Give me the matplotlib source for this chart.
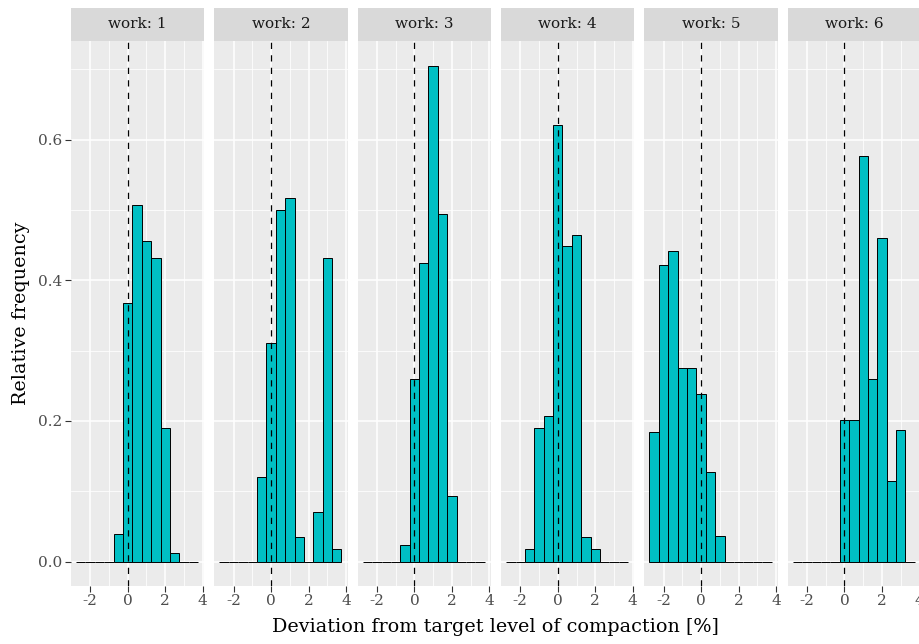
import numpy as np
import matplotlib
matplotlib.use('Agg')
import matplotlib.pyplot as plt

plt.rcParams['font.family'] = ['DejaVu Serif']
plt.rcParams['lines.scale_dashes'] = False

# histogram bins (width 0.5, centred on multiples of 0.5)
bin_centers = [-2.5, -2.0, -1.5, -1.0, -0.5, 0.0, 0.5, 1.0, 1.5, 2.0, 2.5, 3.0, 3.5]
bin_width = 0.5

works = ['1', '2', '3', '4', '5', '6']
freq_w1 = [0, 0, 0, 0, 0.039, 0.367, 0.507, 0.456, 0.431, 0.190, 0.013, 0, 0]
freq_w2 = [0, 0, 0, 0, 0.121, 0.311, 0.500, 0.517, 0.035, 0, 0.070, 0.431, 0.018]
freq_w3 = [0, 0, 0, 0, 0.024, 0.259, 0.424, 0.705, 0.494, 0.094, 0, 0, 0]
freq_w4 = [0, 0, 0.018, 0.190, 0.207, 0.620, 0.448, 0.465, 0.035, 0.018, 0, 0, 0]
freq_w5 = [0.184, 0.422, 0.441, 0.275, 0.275, 0.238, 0.128, 0.037, 0, 0, 0, 0, 0]
freq_w6 = [0, 0, 0, 0, 0, 0.201, 0.201, 0.576, 0.259, 0.460, 0.115, 0.187, 0]
freqs = [freq_w1, freq_w2, freq_w3, freq_w4, freq_w5, freq_w6]

target = 0.0

W, H = 920., 644.
fig = plt.figure(figsize=(W/100, H/100), dpi=100)

panel_left = 71.
panel_step = 143.35
panel_w = 133.3
panel_top = 41.
panel_bot = 586.
strip_top = 8.

for i in range(len(works)):
    x0 = panel_left + i*panel_step
    ax = fig.add_axes([x0/W, 1-panel_bot/H, panel_w/W, (panel_bot-panel_top)/H])
    ax.set_facecolor('#EBEBEB')
    ax.bar(bin_centers, freqs[i], width=bin_width, color='#00BFC4',
           edgecolor='black', linewidth=0.7, zorder=3)
    ax.axvline(target, color='black', lw=0.9, ls=(0, (4.5, 4.5)), zorder=4)

    ax.set_xlim(-3.02, 4.08)
    ax.set_ylim(-0.0345, 0.740)
    ax.set_xticks([-2, 0, 2, 4])
    ax.set_xticklabels(['-2', '0', '2', '4'])
    ax.set_xticks([-1, 1, 3], minor=True)
    ax.set_yticks([0, 0.2, 0.4, 0.6])
    ax.set_yticklabels(['0.0', '0.2', '0.4', '0.6'])
    ax.set_yticks([0.1, 0.3, 0.5, 0.7], minor=True)
    ax.grid(which='major', color='white', lw=1.1)
    ax.grid(which='minor', color='white', lw=0.55)
    ax.set_axisbelow(True)
    for s in ax.spines.values():
        s.set_visible(False)
    ax.tick_params(which='minor', length=0)
    ax.tick_params(which='major', length=4, width=0.8, color='#333333',
                   labelcolor='#4D4D4D', labelsize=11)
    ax.tick_params(axis='x', pad=1.5)
    ax.tick_params(axis='y', pad=2)
    if i > 0:
        ax.tick_params(axis='y', left=False, labelleft=False)

    # facet strip
    st = fig.add_axes([x0/W, 1-panel_top/H, panel_w/W, (panel_top-strip_top)/H])
    st.set_facecolor('#D9D9D9')
    st.set_xticks([])
    st.set_yticks([])
    for s in st.spines.values():
        s.set_visible(False)
    st.text(0.5, 0.5, 'work: ' + works[i], ha='center', va='center',
            fontsize=11, color='#1A1A1A', transform=st.transAxes)

fig.text(495/W, 1-631.5/H, 'Deviation from target level of compaction [%]',
         ha='center', va='baseline', fontsize=13.75, color='black')
fig.text(21.5/W, 1-313.5/H, 'Relative frequency', ha='center', va='center',
         rotation=90, fontsize=13.75, color='black')

plt.savefig('out.png', dpi=100)
